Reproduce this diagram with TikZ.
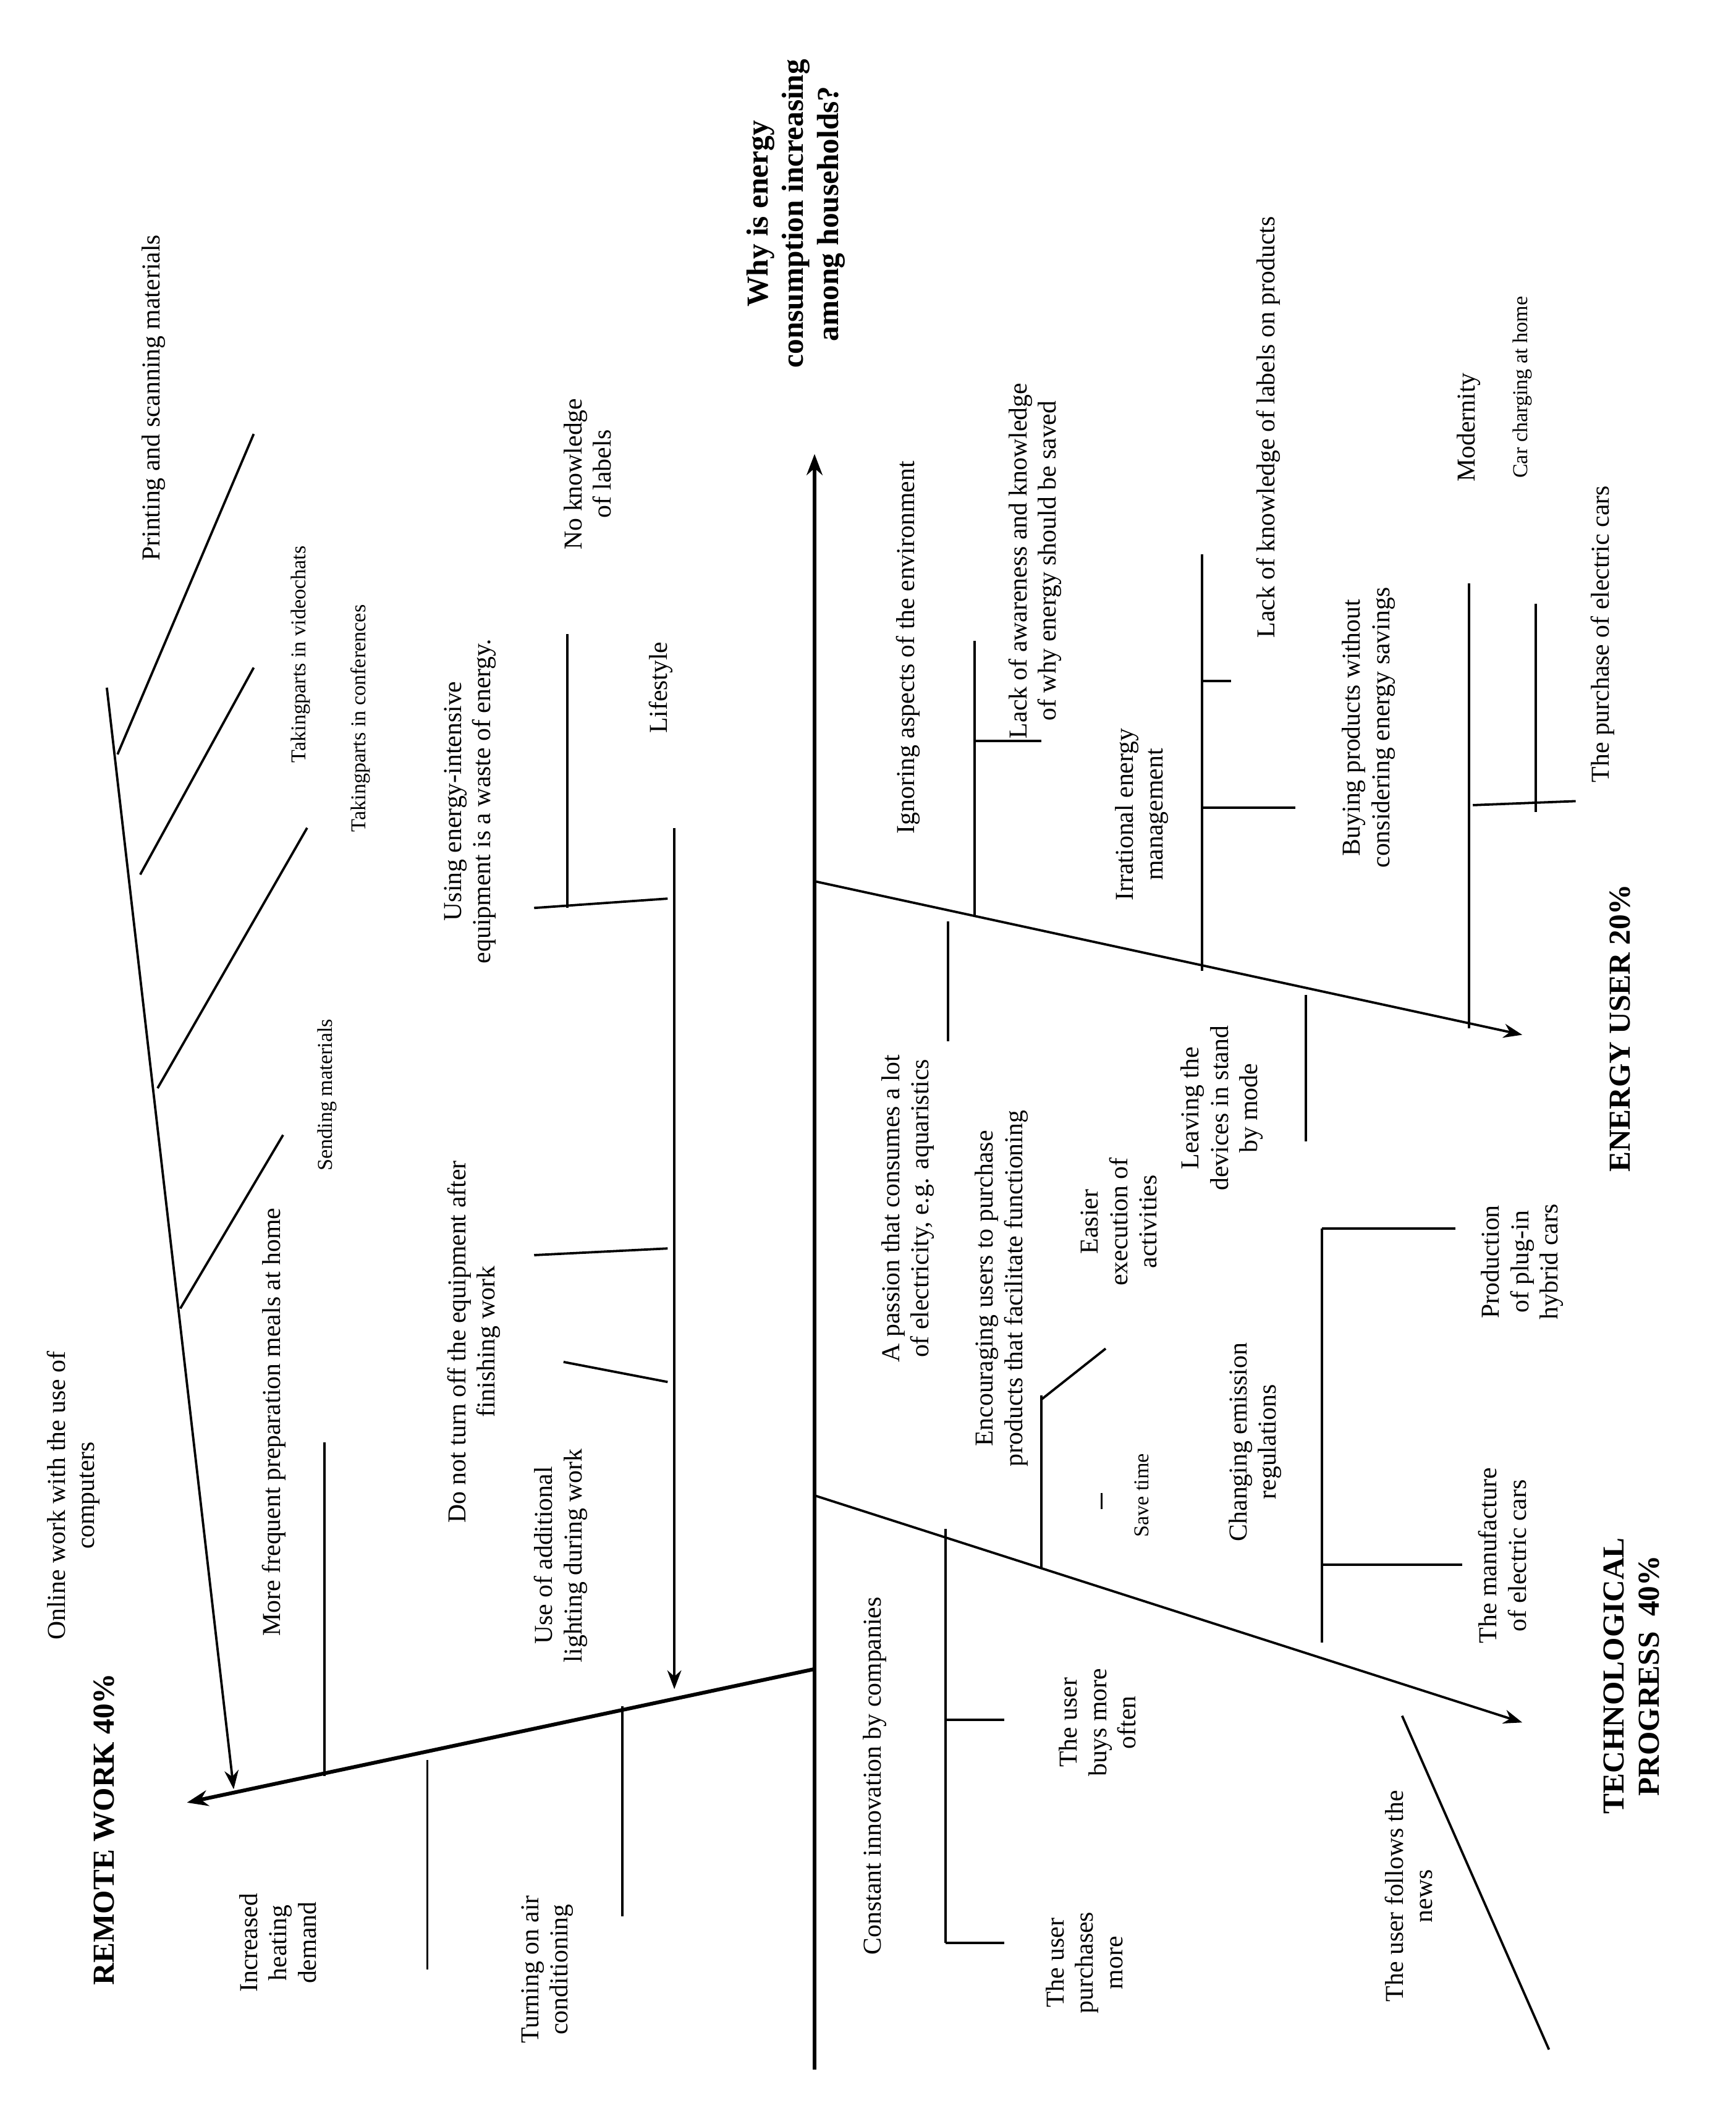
\documentclass[tikz,border=0pt]{standalone}
\usepackage{fontspec}
\setmainfont{Liberation Serif}
\usetikzlibrary{arrows.meta}
\begin{document}
\begin{tikzpicture}[x=0.02cm,y=-0.02cm,
  lbl/.style={rotate=90,align=center,font=\fontsize{11}{12.5}\selectfont},
  head/.style={rotate=90,align=center,font=\fontsize{13}{15}\selectfont\bfseries},
  bone/.style={line width=1pt},
  spine/.style={line width=1.6pt,-{Stealth[length=9pt]}}]
\useasboundingbox (0,0) rectangle (1300,1581);
% main spine and head
\coordinate (tail) at (610,1550);
\coordinate (top) at (610,340);
\draw[spine] (tail) -- (top);
\node[head] (q) at (596,160) {Why is energy\\consumption increasing\\among households?};
% main branches
\coordinate (rwS) at (610,1250); \coordinate (rwE) at (140,1350);
\coordinate (euS) at (610,660);  \coordinate (euE) at (1140,775);
\coordinate (tpS) at (610,1120); \coordinate (tpE) at (1140,1290);
\draw[spine] (rwS) -- (rwE);
\draw[bone,-{Stealth[length=8pt]}] (euS) -- (euE);
\draw[bone,-{Stealth[length=8pt]}] (tpS) -- (tpE);
\node[head] (rw) at (78,1370) {REMOTE WORK 40\%};
\node[head] (eu) at (1213,770) {ENERGY USER 20\%};
\node[head] (tp) at (1222,1255) {TECHNOLOGICAL\\PROGRESS\ \ 40\%};
% remote work: online work
\coordinate (owA) at (80,515); \coordinate (owB) at (175,1340);
\draw[bone,-{Stealth[length=8pt]}] (owA) -- (owB);
\node[lbl] (ow) at (55,1120) {Online work with the use of\\computers};
\draw[bone] (88,565) -- (190,325);
\node[lbl] (ps) at (115,298) {Printing and scanning materials};
\draw[bone] (105,655) -- (190,500);
\node[lbl] (vc) at (225,490) {\small Takingparts in videochats};
\draw[bone] (118,815) -- (230,620);
\node[lbl] (cf) at (270,538) {\small Takingparts in conferences};
\draw[bone] (135,980) -- (212,850);
\node[lbl] (sm) at (245,820) {\small Sending materials};
% remote work: lifestyle
\coordinate (lsA) at (505,620); \coordinate (lsB) at (505,1265);
\draw[bone,-{Stealth[length=8pt]}] (lsA) -- (lsB);
\node[lbl] (ls) at (495,515) {Lifestyle};
\draw[bone] (400,680) -- (500,673);
\draw[bone] (425,475) -- (425,680);
\node[lbl] (nk) at (440,355) {No knowledge\\of labels};
\node[lbl] (ue) at (352,600) {Using energy-intensive\\equipment is a waste of energy.};
\draw[bone] (400,940) -- (500,935);
\node[lbl] (dn) at (355,1005) {Do not turn off the equipment after\\finishing work};
\draw[bone] (422,1020) -- (500,1035);
\node[lbl] (al) at (420,1165) {Use of additional\\lighting during work};
% remote work: other causes
\draw[bone] (243,1080) -- (243,1330);
\node[lbl] (mf) at (205,1065) {More frequent preparation meals at home};
\draw[bone] (320,1318) -- (320,1475);
\node[lbl] (hd) at (208,1455) {Increased\\heating\\demand};
\draw[bone] (466,1278) -- (466,1435);
\node[lbl] (ac) at (410,1475) {Turning on air\\conditioning};
% energy user
\draw[bone] (730,480) -- (730,687);
\draw[bone] (730,555) -- (780,555);
\node[lbl] (ig) at (680,485) {Ignoring aspects of the environment};
\node[lbl] (la) at (775,420) {Lack of awareness and knowledge\\of why energy should be saved};
\draw[bone] (710,690) -- (710,780);
\node[lbl] (pa) at (680,905) {A passion that consumes a lot\\of electricity, e.g. aquaristics};
\draw[bone] (900,415) -- (900,727);
\draw[bone] (900,510) -- (922,510);
\draw[bone] (900,605) -- (970,605);
\node[lbl] (ir) at (855,610) {Irrational energy\\management};
\node[lbl] (lk) at (950,320) {Lack of knowledge of labels on products};
\node[lbl] (bp) at (1025,545) {Buying products without\\considering energy savings};
\draw[bone] (978,745) -- (978,855);
\node[lbl] (sb) at (915,830) {Leaving the\\devices in stand\\by mode};
\draw[bone] (1100,437) -- (1100,770);
\draw[bone] (1103,603) -- (1180,600);
\draw[bone] (1150,452) -- (1150,608);
\node[lbl] (mo) at (1100,320) {Modernity};
\node[lbl] (ch) at (1140,290) {\small Car charging at home};
\node[lbl] (pe) at (1200,475) {The purchase of electric cars};
% technological progress
\draw[bone] (708,1145) -- (708,1455);
\draw[bone] (708,1288) -- (752,1288);
\draw[bone] (708,1455) -- (752,1455);
\node[lbl] (ci) at (655,1330) {Constant innovation by companies};
\node[lbl] (bo) at (822,1290) {The user\\buys more\\often};
\node[lbl] (up) at (812,1470) {The user\\purchases\\more};
\draw[bone] (780,1045) -- (780,1175);
\draw[bone] (780,1048) -- (828,1010);
\node[lbl] (en) at (750,965) {Encouraging users to purchase\\products that facilitate functioning};
\node[lbl] (ea) at (838,915) {Easier\\execution of\\activities};
\draw[bone] (825,1118) -- (825,1130);
\node[lbl] (st) at (855,1120) {\small Save time};
\draw[bone] (990,920) -- (990,1230);
\draw[bone] (990,920) -- (1090,920);
\draw[bone] (990,1172) -- (1095,1172);
\node[lbl] (er) at (940,1080) {Changing emission\\regulations};
\node[lbl] (ph) at (1140,945) {Production\\of plug-in\\hybrid cars};
\node[lbl] (me) at (1125,1165) {The manufacture\\of electric cars};
\draw[bone] (1050,1285) -- (1160,1535);
\node[lbl] (fn) at (1055,1420) {The user follows the\\news};
\end{tikzpicture}
\end{document}
